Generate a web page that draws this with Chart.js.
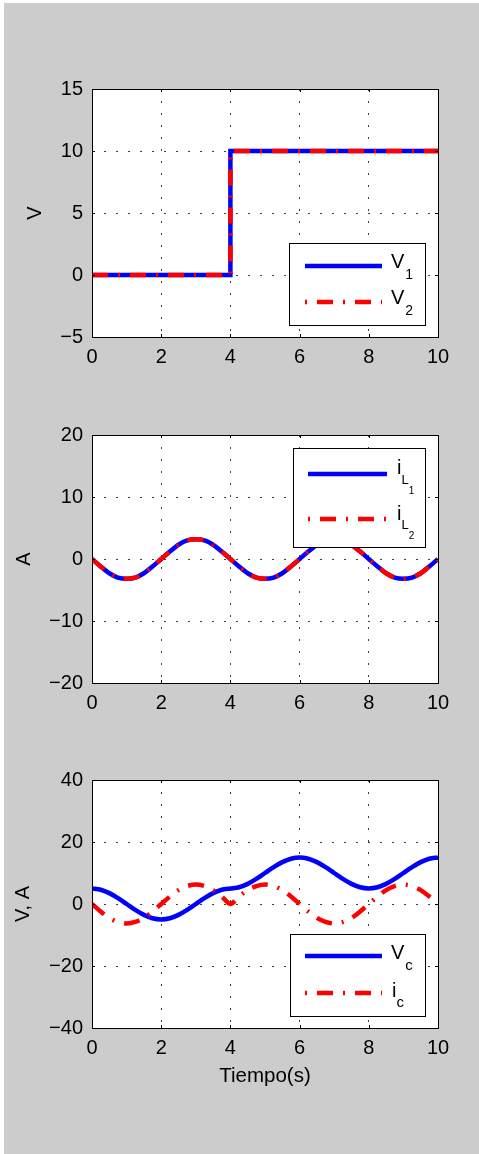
<!DOCTYPE html>
<html>
<head>
<meta charset="utf-8">
<script src="https://cdn.jsdelivr.net/npm/chart.js@4.4.1/dist/chart.umd.min.js"></script>
<style>
  html, body { margin: 0; padding: 0; background: #fff; }
  #fig { position: absolute; left: 4px; top: 3px; width: 475px; height: 1151px; background: #cccccc; }
  canvas { position: absolute; left: 0; }
</style>
</head>
<body>
<div id="fig"></div>
<canvas id="chart-v" width="479" height="330" style="top:60px"></canvas>
<canvas id="chart-il" width="479" height="340" style="top:400px"></canvas>
<canvas id="chart-vc" width="479" height="350" style="top:750px"></canvas>
<script>
// Valores
const stepTime = [0, 4, 4, 10];
const v1 = [0, 0, 10, 10];
const v2 = [0, 0, 10, 10];

const tiempo = [0, 0.25, 0.5, 0.75, 1, 1.25, 1.5, 1.75, 2, 2.25, 2.5, 2.75, 3, 3.25, 3.5, 3.75,
    4, 4.25, 4.5, 4.75, 5, 5.25, 5.5, 5.75, 6, 6.25, 6.5, 6.75, 7, 7.25, 7.5, 7.75,
    8, 8.25, 8.5, 8.75, 9, 9.25, 9.5, 9.75, 10];

const iL1 = [0, -1.2, -2.3, -3.0, -3.2, -3.0, -2.3, -1.2,
    0, 1.2, 2.3, 3.0, 3.2, 3.0, 2.3, 1.2,
    0, -1.2, -2.3, -3.0, -3.2, -3.0, -2.3, -1.2,
    0, 1.2, 2.3, 3.0, 3.2, 3.0, 2.3, 1.2,
    0, -1.2, -2.3, -3.0, -3.2, -3.0, -2.3, -1.2,
    0];
const iL2 = [0, -1.2, -2.3, -3.0, -3.2, -3.0, -2.3, -1.2,
    0, 1.2, 2.3, 3.0, 3.2, 3.0, 2.3, 1.2,
    0, -1.2, -2.3, -3.0, -3.2, -3.0, -2.3, -1.2,
    0, 1.2, 2.3, 3.0, 3.2, 3.0, 2.3, 1.2,
    0, -1.2, -2.3, -3.0, -3.2, -3.0, -2.3, -1.2,
    0];

const vc = [5.0, 4.6, 3.5, 1.9, 0, -1.9, -3.5, -4.6,
    -5.0, -4.6, -3.5, -1.9, 0, 1.9, 3.5, 4.6,
    5.0, 5.4, 6.5, 8.1, 10.0, 11.9, 13.5, 14.6,
    15.0, 14.6, 13.5, 11.9, 10.0, 8.1, 6.5, 5.4,
    5.0, 5.4, 6.5, 8.1, 10.0, 11.9, 13.5, 14.6,
    15.0];
const ic = [0, -2.4, -4.5, -5.8, -6.3, -5.8, -4.5, -2.4,
    0, 2.4, 4.5, 5.8, 6.3, 5.8, 4.5, 2.4,
    0, 2.4, 4.5, 5.8, 6.3, 5.8, 4.5, 2.4,
    0, -2.4, -4.5, -5.8, -6.3, -5.8, -4.5, -2.4,
    0, 2.4, 4.5, 5.8, 6.3, 5.8, 4.5, 2.4,
    0];

const xTicks = [0, 2, 4, 6, 8, 10];
const yTicksV = [-5, 0, 5, 10, 15];
const yTicksA = [-20, -10, 0, 10, 20];
const yTicksVA = [-40, -20, 0, 20, 40];

const FONT = "'Liberation Sans', Arial, Helvetica, sans-serif";
Chart.defaults.font.family = FONT;
Chart.defaults.color = '#000';

const pts = (xs, ys) => xs.map((x, i) => ({ x: x, y: ys[i] }));
const minus = v => String(v).replace('-', '\u2212');

// fondo blanco del area, marco y marcas hacia dentro (estilo MATLAB)
const plotFrame = {
    id: 'plotFrame',
    beforeDraw(chart) {
        const { ctx, chartArea: a } = chart;
        ctx.save();
        ctx.fillStyle = '#fff';
        ctx.fillRect(a.left, a.top, a.right - a.left, a.bottom - a.top);
        ctx.restore();
    },
    afterDatasetsDraw(chart) {
        const { ctx, chartArea: a, scales } = chart;
        ctx.save();
        ctx.strokeStyle = '#000';
        ctx.lineWidth = 1;
        ctx.beginPath();
        scales.x.ticks.forEach(t => {
            const px = Math.round(scales.x.getPixelForValue(t.value)) + 0.5;
            ctx.moveTo(px, a.bottom); ctx.lineTo(px, a.bottom - 3);
            ctx.moveTo(px, a.top); ctx.lineTo(px, a.top + 3);
        });
        scales.y.ticks.forEach(t => {
            const py = Math.round(scales.y.getPixelForValue(t.value)) + 0.5;
            ctx.moveTo(a.left, py); ctx.lineTo(a.left + 3, py);
            ctx.moveTo(a.right, py); ctx.lineTo(a.right - 3, py);
        });
        ctx.stroke();
        ctx.strokeRect(Math.round(a.left) + 0.5, Math.round(a.top) + 0.5,
            Math.round(a.right - a.left), Math.round(a.bottom - a.top));
        ctx.restore();
    }
};

// leyenda con subindices
function mathLegend(cfg) {
    return {
        id: 'mathLegend',
        afterDraw(chart) {
            const { ctx } = chart;
            const b = cfg.box;
            ctx.save();
            ctx.fillStyle = '#fff';
            ctx.fillRect(b.x, b.y, b.w, b.h);
            ctx.strokeStyle = '#000';
            ctx.lineWidth = 1;
            ctx.strokeRect(b.x + 0.5, b.y + 0.5, b.w, b.h);
            cfg.items.forEach((item, i) => {
                const ds = chart.data.datasets[i];
                ctx.strokeStyle = ds.borderColor;
                ctx.lineWidth = ds.borderWidth;
                ctx.lineCap = 'butt';
                ctx.setLineDash(ds.borderDash || []);
                ctx.lineDashOffset = ds.borderDash ? 26 : 0;
                ctx.beginPath();
                ctx.moveTo(cfg.lineX[0], item.y);
                ctx.lineTo(cfg.lineX[1], item.y);
                ctx.stroke();
                ctx.setLineDash([]);
                ctx.fillStyle = '#000';
                ctx.textAlign = 'left';
                ctx.textBaseline = 'alphabetic';
                let x = item.x;
                item.parts.forEach(p => {
                    ctx.font = p.size + 'px ' + FONT;
                    ctx.fillText(p.text, x, item.y + p.rise);
                    x += ctx.measureText(p.text).width + (p.gap || 0);
                });
            });
            ctx.restore();
        }
    };
}

function xAxis(height, title) {
    return {
        type: 'linear',
        min: xTicks[0],
        max: xTicks[xTicks.length - 1],
        afterBuildTicks: s => { s.ticks = xTicks.map(v => ({ value: v })); },
        afterFit: s => { s.height = height; },
        ticks: { padding: 8.5, font: { size: 20 }, maxRotation: 0, autoSkip: false, callback: minus },
        grid: { color: '#404040', lineWidth: 1, drawTicks: false },
        border: { display: false, dash: [2, 10] },
        title: title
            ? { display: true, text: title, font: { size: 20.5 }, padding: { top: 0, bottom: 11 } }
            : { display: false }
    };
}

function yAxis(ticks, title, titlePad) {
    return {
        type: 'linear',
        min: ticks[0],
        max: ticks[ticks.length - 1],
        afterBuildTicks: s => { s.ticks = ticks.map(v => ({ value: v })); },
        afterFit: s => { s.width = 92; },
        ticks: { padding: 9, font: { size: 20 }, autoSkip: false, callback: minus },
        grid: { color: '#404040', lineWidth: 1, drawTicks: false },
        border: { display: false, dash: [2, 10] },
        title: { display: true, text: title, font: { size: 20 }, padding: { top: titlePad, bottom: 0 } }
    };
}

function blueLine(data, tension) {
    return {
        data: data, borderColor: '#0000ff', borderWidth: 4.5, pointRadius: 0,
        tension: tension, borderCapStyle: 'butt', clip: 0, order: 2
    };
}
function redLine(data, tension) {
    return {
        data: data, borderColor: '#ff0000', borderWidth: 4.5, pointRadius: 0,
        borderDash: [16, 10, 2, 10], tension: tension, borderCapStyle: 'butt', clip: 0, order: 1
    };
}

function makeChart(id, datasets, scales, padding, legendCfg) {
    new Chart(document.getElementById(id).getContext('2d'), {
        type: 'line',
        data: { datasets: datasets },
        options: {
            responsive: false,
            animation: false,
            layout: { padding: padding },
            scales: scales,
            plugins: { legend: { display: false }, tooltip: { enabled: false } }
        },
        plugins: [plotFrame, mathLegend(legendCfg)]
    });
}

makeChart('chart-v',
    [blueLine(pts(stepTime, v1), 0), redLine(pts(stepTime, v2), 0)],
    { x: xAxis(53), y: yAxis(yTicksV, 'V', 23) },
    { left: 0, right: 41, top: 29, bottom: 0 },
    {
        box: { x: 289, y: 183, w: 136, h: 82 },
        lineX: [305, 382],
        items: [
            { y: 206, x: 391, parts: [{ text: 'V', size: 20, rise: 2, gap: 1 }, { text: '1', size: 14, rise: 13 }] },
            { y: 242, x: 391, parts: [{ text: 'V', size: 20, rise: 2, gap: 1 }, { text: '2', size: 14, rise: 13 }] }
        ]
    });

makeChart('chart-il',
    [blueLine(pts(tiempo, iL1), 0.3), redLine(pts(tiempo, iL2), 0.3)],
    { x: xAxis(57), y: yAxis(yTicksA, 'A', 12) },
    { left: 0, right: 41, top: 35, bottom: 0 },
    {
        box: { x: 293, y: 48, w: 132, h: 99 },
        lineX: [308, 387],
        items: [
            { y: 74, x: 397, parts: [{ text: 'i', size: 20, rise: 0 }, { text: 'L', size: 13, rise: 10 }, { text: '1', size: 10, rise: 20 }] },
            { y: 119, x: 397, parts: [{ text: 'i', size: 20, rise: 1 }, { text: 'L', size: 13, rise: 10 }, { text: '2', size: 10, rise: 20 }] }
        ]
    });

makeChart('chart-vc',
    [blueLine(pts(tiempo, vc), 0.3), redLine(pts(tiempo, ic), 0.3)],
    { x: xAxis(72, 'Tiempo(s)'), y: yAxis(yTicksVA, 'V, A', 11.5) },
    { left: 0, right: 41, top: 30, bottom: 0 },
    {
        box: { x: 290, y: 184, w: 135, h: 82 },
        lineX: [305, 382],
        items: [
            { y: 206, x: 391, parts: [{ text: 'V', size: 20, rise: 3, gap: 1 }, { text: 'c', size: 15, rise: 14 }] },
            { y: 243, x: 392, parts: [{ text: 'i', size: 20, rise: 4 }, { text: 'c', size: 15, rise: 14 }] }
        ]
    });
</script>
</body>
</html>
